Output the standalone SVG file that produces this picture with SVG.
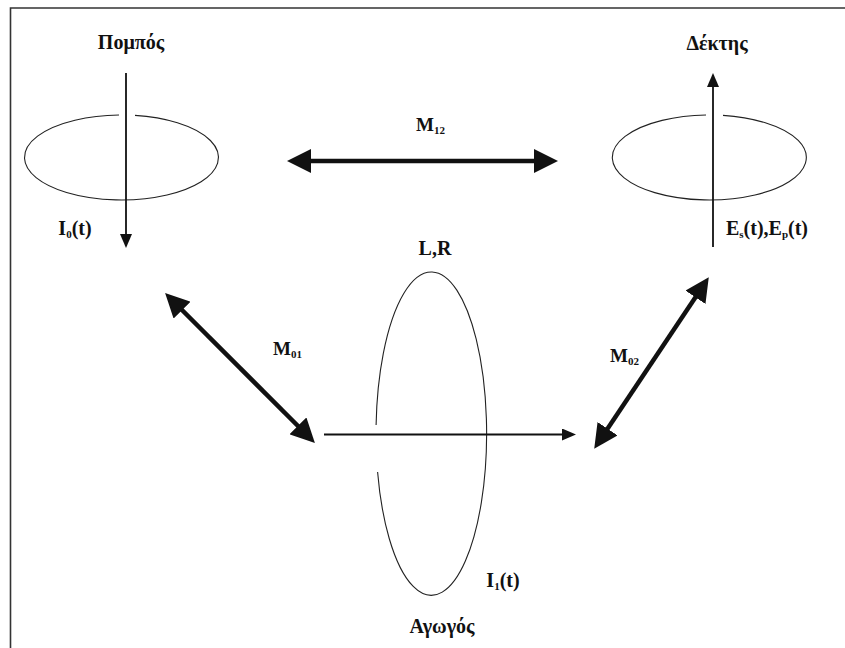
<svg xmlns="http://www.w3.org/2000/svg" width="845" height="648" viewBox="0 0 845 648">
<style>
.lbl{font-family:"Liberation Serif","DejaVu Serif",serif;font-size:20px;font-weight:bold;fill:#111;text-anchor:middle}
.m{font-family:"Liberation Serif","DejaVu Serif",serif;font-size:19px;font-weight:bold;fill:#111}
.sub{font-size:11px}
.loop{fill:none;stroke:#222;stroke-width:1.1}
.thin{fill:none;stroke:#111;stroke-width:1.8}
.thick{fill:none;stroke:#111;stroke-width:4.5}
</style>
<defs>
<marker id="hs" markerUnits="userSpaceOnUse" markerWidth="14" markerHeight="12" viewBox="0 0 14 12" refX="4" refY="6" orient="auto">
<path d="M0,0 L14,6 L0,12 Z" fill="#111"/>
</marker>
<marker id="hb" markerUnits="userSpaceOnUse" markerWidth="24" markerHeight="24" viewBox="0 0 24 24" refX="10" refY="12" orient="auto-start-reverse">
<path d="M0,0 L24,12 L0,24 Z" fill="#111"/>
</marker>
</defs>
<rect width="845" height="648" fill="#fff"/>
<g id="frame" fill="none" stroke="#333" stroke-width="1.6">
<path d="M10.5,648 L10.5,8 L845,8"/>
</g>
<g id="pompos">
<path class="loop" d="M135,115.4 A97,42.5 0 1,1 119,115"/>
<text class="lbl" x="131" y="49">Πομπός</text>
<text class="lbl" x="75" y="235">I<tspan class="sub" dy="3">0</tspan><tspan dy="-3">(t)</tspan></text>
</g>
<g id="dektis">
<path class="loop" d="M723,115.4 A97,42.5 0 1,1 706,115"/>
<text class="lbl" x="717" y="50">Δέκτης</text>
<text class="lbl" x="767" y="235">E<tspan class="sub" dy="3">s</tspan><tspan dy="-3">(t),E</tspan><tspan class="sub" dy="3">p</tspan><tspan dy="-3">(t)</tspan></text>
</g>
<g id="agogos">
<path class="loop" d="M376.1,425 A55.3,161.7 0 1,1 377.6,472"/>
<text class="lbl" x="435" y="255">L,R</text>
<text class="lbl" x="503" y="587">I<tspan class="sub" dy="3">1</tspan><tspan dy="-3">(t)</tspan></text>
<text class="lbl" x="442" y="633">Αγωγός</text>
</g>
<g id="connectors">
<line class="thin" x1="126" y1="73" x2="126" y2="238" marker-end="url(#hs)"/>
<line class="thin" x1="713" y1="247" x2="713" y2="83" marker-end="url(#hs)"/>
<line class="thin" x1="324" y1="434.5" x2="566" y2="434.5" marker-end="url(#hs)"/>
<line class="thick" x1="301" y1="161" x2="544" y2="161" marker-start="url(#hb)" marker-end="url(#hb)"/>
<line class="thick" x1="175" y1="303" x2="305" y2="433" marker-start="url(#hb)" marker-end="url(#hb)"/>
<line class="thick" x1="602" y1="437" x2="701" y2="289" marker-start="url(#hb)" marker-end="url(#hb)"/>
</g>
<g id="labels">
<text class="m" x="416" y="131">M<tspan class="sub" dy="3">12</tspan></text>
<text class="m" x="273" y="355">M<tspan class="sub" dy="3">01</tspan></text>
<text class="m" x="610" y="362">M<tspan class="sub" dy="3">02</tspan></text>
</g>
</svg>
